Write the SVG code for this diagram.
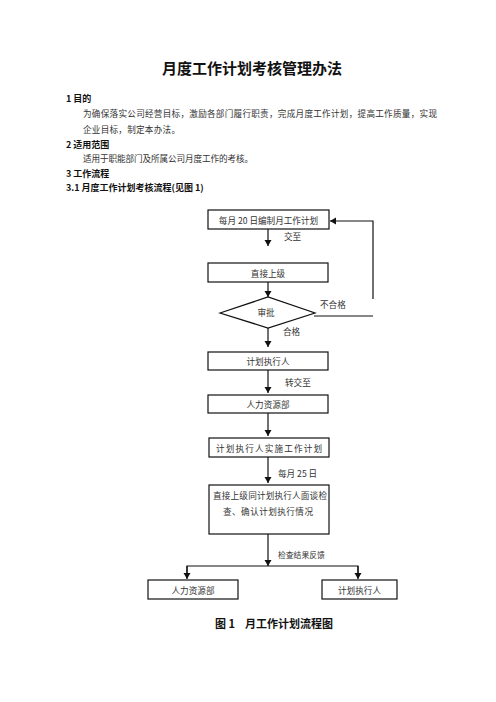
<svg xmlns="http://www.w3.org/2000/svg" width="496" height="702" viewBox="0 0 496 702">
<defs>
<style>
.t{font-family:"Noto Sans CJK SC","Liberation Sans",sans-serif;fill:#111;dominant-baseline:central}
.title{font-size:15px;font-weight:bold;text-anchor:middle}
.h{font-size:9px;font-weight:bold}
.b{font-size:8.6px;fill:#333}
.n{font-size:8.6px;fill:#333;text-anchor:middle}
.l{font-size:8.6px;fill:#333}
.box{fill:#fff;stroke:#111;stroke-width:1.2}
.ln{fill:none;stroke:#111;stroke-width:1.2}
.cap{font-size:11px;font-weight:bold}
</style>
<marker id="ah" markerUnits="userSpaceOnUse" markerWidth="7" markerHeight="8" refX="6" refY="3.5" orient="auto">
<path d="M0,0 L6,3.5 L0,7 Z" fill="#111"/>
</marker>
</defs>
<rect width="496" height="702" fill="#fff"/>
<text class="t title" x="252" y="67">月度工作计划考核管理办法</text>
<text class="t h" x="66" y="98">1 目的</text>
<text class="t b" x="83" y="113" textLength="354" lengthAdjust="spacing">为确保落实公司经营目标，激励各部门履行职责，完成月度工作计划，提高工作质量，实现</text>
<text class="t b" x="83" y="129" textLength="97" lengthAdjust="spacing">企业目标，制定本办法。</text>
<text class="t h" x="66" y="144">2 适用范围</text>
<text class="t b" x="83" y="158" textLength="170" lengthAdjust="spacing">适用于职能部门及所属公司月度工作的考核。</text>
<text class="t h" x="66" y="173">3 工作流程</text>
<text class="t h" x="66" y="187">3.1 月度工作计划考核流程(见图 1)</text>
<g id="connectors">
<line class="ln" x1="268" y1="229" x2="268" y2="246" marker-end="url(#ah)"/>
<line class="ln" x1="268" y1="282" x2="268" y2="297" marker-end="url(#ah)"/>
<line class="ln" x1="268" y1="328" x2="268" y2="347" marker-end="url(#ah)"/>
<line class="ln" x1="268" y1="370" x2="268" y2="393" marker-end="url(#ah)"/>
<line class="ln" x1="268" y1="413" x2="268" y2="436" marker-end="url(#ah)"/>
<line class="ln" x1="268" y1="457" x2="268" y2="483" marker-end="url(#ah)"/>
<line class="ln" x1="268" y1="534" x2="268" y2="566" marker-end="url(#ah)"/>
<polyline class="ln" points="187,578 187,566 358,566 358,578"/>
<line class="ln" x1="187" y1="566" x2="187" y2="579" marker-end="url(#ah)"/>
<line class="ln" x1="358" y1="566" x2="358" y2="579" marker-end="url(#ah)"/>
<polyline class="ln" points="373,299 373,221 330,221" marker-end="url(#ah)"/>
<line class="ln" x1="314" y1="316" x2="373" y2="316"/>
<text class="t l" x="284" y="236">交至</text>
<text class="t l" x="320" y="304">不合格</text>
<text class="t l" x="283" y="331">合格</text>
<text class="t l" x="285" y="382">转交至</text>
<text class="t l" x="278" y="473">每月 25 日</text>
<text class="t l" x="278" y="554" style="font-size:7.8px">检查结果反馈</text>
</g>
<g id="n1"><rect class="box" x="208" y="210" width="121" height="19"/><text class="t n" x="268.5" y="219.5">每月 20 日编制月工作计划</text></g>
<g id="n2"><rect class="box" x="208" y="263" width="120" height="19"/><text class="t n" x="268" y="272.5">直接上级</text></g>
<g id="n3"><polygon class="box" points="220,313 268,297 315,313 268,328"/><text class="t n" x="266" y="312">审批</text></g>
<g id="n4"><rect class="box" x="208" y="352" width="120" height="18"/><text class="t n" x="268" y="361">计划执行人</text></g>
<g id="n5"><rect class="box" x="208" y="395" width="120" height="18"/><text class="t n" x="268" y="404">人力资源部</text></g>
<g id="n6"><rect class="box" x="209" y="438" width="120" height="19"/><text class="t n" x="269" y="447.5" textLength="106" lengthAdjust="spacing">计划执行人实施工作计划</text></g>
<g id="n7"><rect class="box" x="209" y="485" width="120" height="49"/><text class="t n" x="270" y="495" textLength="114" lengthAdjust="spacing">直接上级同计划执行人面谈检</text><text class="t n" x="268" y="511" textLength="90" lengthAdjust="spacing">查、确认计划执行情况</text></g>
<g id="n8"><rect class="box" x="148" y="580" width="90" height="19"/><text class="t n" x="193" y="589.5">人力资源部</text></g>
<g id="n9"><rect class="box" x="322" y="580" width="75" height="19"/><text class="t n" x="359.5" y="589.5">计划执行人</text></g>
<text class="t cap" x="215" y="623">图 1</text>
<text class="t cap" x="245" y="623">月工作计划流程图</text>
</svg>
